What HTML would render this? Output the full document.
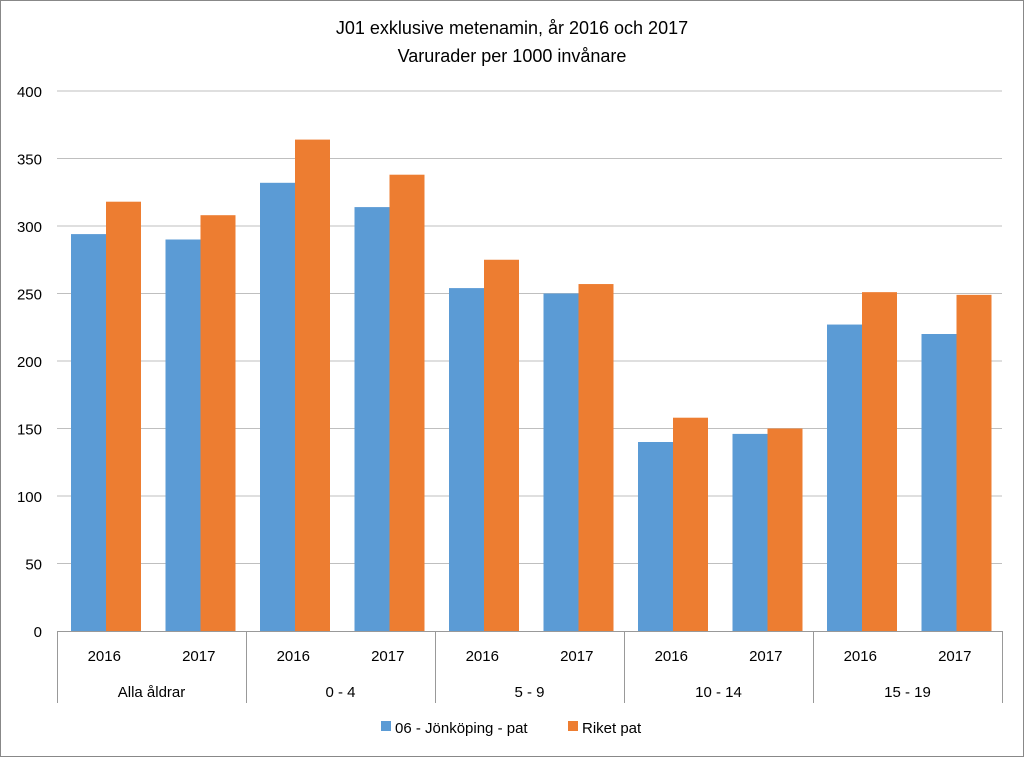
<!DOCTYPE html>
<html><head><meta charset="utf-8"><style>
html,body{margin:0;padding:0;background:#fff;}
svg{display:block;font-family:"Liberation Sans",sans-serif;}
</style></head><body>
<svg id="chart" width="1024" height="757" viewBox="0 0 1024 757">
<rect x="0.5" y="0.5" width="1023" height="756" fill="#fff" stroke="#888"/>
<text x="512" y="34" text-anchor="middle" font-size="18" fill="#000">J01 exklusive metenamin, år 2016 och 2017</text>
<text x="512" y="62" text-anchor="middle" font-size="18" fill="#000">Varurader per 1000 invånare</text>
<g id="grid"></g><g id="bars"></g><g id="axis"></g>
<g>
<rect x="381" y="721" width="10" height="10" fill="#5b9bd5"/>
<text x="395" y="733" font-size="15">06 - Jönköping - pat</text>
<rect x="568" y="721" width="10" height="10" fill="#ed7d31"/>
<text x="582" y="733" font-size="15">Riket pat</text>
</g>
</svg>
<script>
const groups=["Alla åldrar","0 - 4","5 - 9","10 - 14","15 - 19"];
const years=["2016","2017"];
const jonkoping=[294,290,332,314,254,250,140,146,227,220];
const riket=[318,308,364,338,275,257,158,150,251,249];
const yTicks=[0,50,100,150,200,250,300,350,400];
const NS="http://www.w3.org/2000/svg";
const x0=57,x1=1002,yBase=631,yTop=91,yMax=400;
const slot=(x1-x0)/jonkoping.length;
const y=v=>yBase-(v/yMax)*(yBase-yTop);
function mk(tag,attrs,parent){const e=document.createElementNS(NS,tag);for(const k in attrs)e.setAttribute(k,attrs[k]);parent.appendChild(e);return e;}
const grid=document.getElementById('grid'),bars=document.getElementById('bars'),axis=document.getElementById('axis');
yTicks.forEach(t=>{
 if(t>0){const l=mk('line',{x1:x0,x2:x1,y1:y(t),y2:y(t),stroke:'#bfbfbf','stroke-width':1},grid);
 
 }
 const tx=mk('text',{x:42,y:y(t)+6,'text-anchor':'end','font-size':15,fill:'#000'},axis);
 tx.textContent=t;
 
 
});
jonkoping.forEach((v,i)=>{
 const sx=x0+i*slot;
 const b=mk('rect',{x:sx+14,y:y(v),width:35,height:yBase-y(v),fill:'#5b9bd5'},bars);
 
 
 const r=riket[i];
 const o=mk('rect',{x:sx+49,y:y(r),width:35,height:yBase-y(r),fill:'#ed7d31'},bars);
 
 
 const yt=mk('text',{x:sx+slot/2,y:661,'text-anchor':'middle','font-size':15},axis);
 yt.textContent=years[i%2];
 
 
});
const ax=mk('line',{x1:x0,x2:x1,y1:yBase+0.5,y2:yBase+0.5,stroke:'#999'},axis);


for(let g=0;g<=groups.length;g++){
 const gx=x0+g*2*slot+0.5;
 const l=mk('line',{x1:gx,x2:gx,y1:yBase,y2:703,stroke:'#999'},axis);
 
 
 if(g<groups.length){
  const t=mk('text',{x:x0+(g*2+1)*slot,y:697,'text-anchor':'middle','font-size':15},axis);
  t.textContent=groups[g];
  
  
 }
}
</script>
</body></html>
